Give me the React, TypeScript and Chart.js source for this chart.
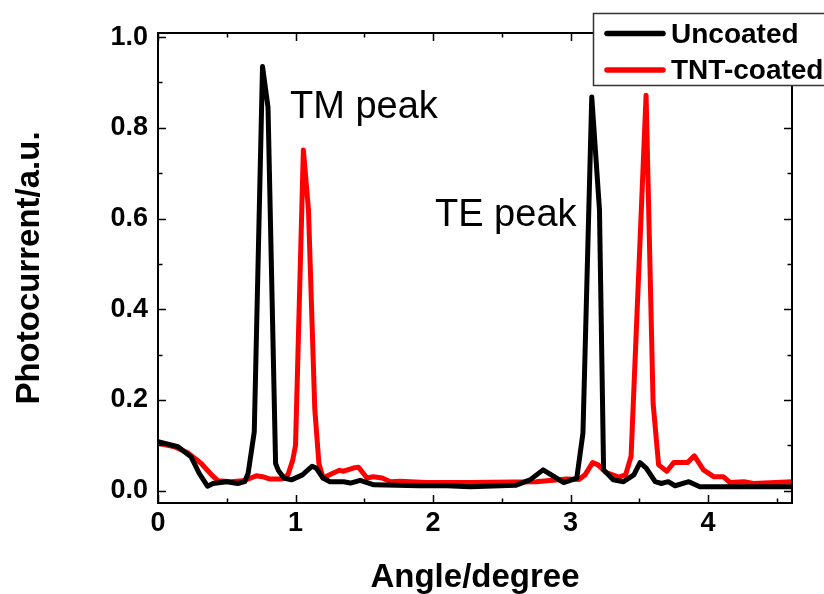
import React, { useEffect, useRef } from "react";
import { Chart, registerables } from "chart.js";

Chart.register(...registerables);

const FONT = "'Liberation Sans', Arial, sans-serif";

const uncoatedX = [0, 0.145, 0.24, 0.30, 0.36, 0.40, 0.50, 0.58, 0.63, 0.655, 0.70, 0.76, 0.80, 0.855, 0.875, 0.915, 0.97, 1.05, 1.12, 1.15, 1.20, 1.25, 1.35, 1.40, 1.47, 1.57, 1.9, 2.1, 2.27, 2.6, 2.705, 2.80, 2.875, 2.95, 3.045, 3.09, 3.154, 3.21, 3.24, 3.31, 3.385, 3.46, 3.505, 3.55, 3.615, 3.66, 3.71, 3.76, 3.86, 3.94, 4.2, 4.61];
const uncoatedY = [0.108, 0.097, 0.075, 0.038, 0.01, 0.016, 0.02, 0.016, 0.02, 0.038, 0.13, 0.935, 0.845, 0.06, 0.045, 0.028, 0.024, 0.035, 0.054, 0.05, 0.028, 0.02, 0.02, 0.017, 0.023, 0.013, 0.011, 0.011, 0.009, 0.012, 0.024, 0.046, 0.032, 0.018, 0.028, 0.127, 0.868, 0.62, 0.046, 0.024, 0.02, 0.035, 0.062, 0.05, 0.02, 0.016, 0.02, 0.011, 0.02, 0.009, 0.009, 0.009];

const coatedX = [0, 0.12, 0.22, 0.315, 0.39, 0.436, 0.53, 0.62, 0.667, 0.715, 0.76, 0.81, 0.9, 0.945, 0.98, 1.0, 1.057, 1.094, 1.14, 1.17, 1.20, 1.275, 1.32, 1.35, 1.42, 1.457, 1.52, 1.566, 1.63, 1.69, 1.76, 1.95, 2.27, 2.75, 2.97, 3.06, 3.105, 3.16, 3.2, 3.26, 3.35, 3.40, 3.44, 3.549, 3.60, 3.64, 3.70, 3.75, 3.85, 3.90, 3.966, 4.04, 4.11, 4.16, 4.26, 4.33, 4.61];
const coatedY = [0.105, 0.097, 0.083, 0.06, 0.035, 0.022, 0.02, 0.022, 0.027, 0.033, 0.031, 0.026, 0.026, 0.035, 0.068, 0.10, 0.751, 0.62, 0.18, 0.06, 0.028, 0.039, 0.045, 0.043, 0.05, 0.052, 0.028, 0.031, 0.028, 0.02, 0.021, 0.018, 0.018, 0.02, 0.026, 0.025, 0.035, 0.062, 0.057, 0.04, 0.03, 0.035, 0.076, 0.872, 0.193, 0.057, 0.043, 0.062, 0.062, 0.077, 0.046, 0.031, 0.031, 0.018, 0.02, 0.016, 0.02];

const xTicks = [0, 1, 2, 3, 4];
const xMinorTicks = [0.5, 1.5, 2.5, 3.5, 4.5];
const yTicks = [0, 0.2, 0.4, 0.6, 0.8, 1.0];
const yMinorTicks = [0.1, 0.3, 0.5, 0.7, 0.9];

const seriesNames = ["Uncoated", "TNT-coated"];
const seriesColors = ["#000000", "#ff0000"];
const annotations = [
  { text: "TM peak", x: 290, y: 118 },
  { text: "TE peak", x: 435, y: 226 },
];

const framePlugin = {
  id: "frame",
  afterDatasetsDraw(chart: any) {
    const { ctx, chartArea, scales } = chart;
    const { left, right, top, bottom } = chartArea;
    const xs = scales.x;
    const ys = scales.y;
    ctx.save();
    ctx.strokeStyle = "#000";
    ctx.lineWidth = 2;
    ctx.strokeRect(left, top, right - left, bottom - top);
    ctx.lineWidth = 1.5;
    const major = 8;
    const minor = 4.5;
    ctx.beginPath();
    const xt = (v: number, len: number) => {
      const p = Math.round(xs.getPixelForValue(v)) + 0.5;
      ctx.moveTo(p, bottom);
      ctx.lineTo(p, bottom - len);
      ctx.moveTo(p, top);
      ctx.lineTo(p, top + len);
    };
    const yt = (v: number, len: number) => {
      const p = Math.round(ys.getPixelForValue(v)) + 0.5;
      ctx.moveTo(left, p);
      ctx.lineTo(left + len, p);
      ctx.moveTo(right, p);
      ctx.lineTo(right - len, p);
    };
    xTicks.forEach((v) => xt(v, major));
    xMinorTicks.forEach((v) => xt(v, minor));
    yTicks.forEach((v) => yt(v, major));
    yMinorTicks.forEach((v) => yt(v, minor));
    ctx.stroke();

    // annotations
    ctx.fillStyle = "#000";
    ctx.font = `38px ${FONT}`;
    ctx.textAlign = "left";
    ctx.textBaseline = "alphabetic";
    annotations.forEach((a) => ctx.fillText(a.text, a.x, a.y));

    // legend
    const bx = 593, by = 13, bw = 240, bh = 72;
    ctx.fillStyle = "#fff";
    ctx.fillRect(bx, by, bw, bh);
    ctx.strokeStyle = "#333";
    ctx.lineWidth = 1.5;
    ctx.strokeRect(bx + 0.5, by + 0.5, bw, bh);
    ctx.lineCap = "round";
    ctx.font = `bold 28px ${FONT}`;
    ctx.textBaseline = "alphabetic";
    seriesNames.forEach((name, i) => {
      const ly = 33.5 + i * 36.5;
      ctx.strokeStyle = seriesColors[i];
      ctx.lineWidth = 5.5;
      ctx.beginPath();
      ctx.moveTo(607, ly);
      ctx.lineTo(663, ly);
      ctx.stroke();
      ctx.fillStyle = "#000";
      ctx.fillText(name, 671, 43 + i * 36);
    });
    ctx.restore();
  },
};

export default function App() {
  const ref = useRef<HTMLCanvasElement | null>(null);
  useEffect(() => {
    if (!ref.current) return;
    const toPts = (xs: number[], ys: number[]) => xs.map((x, i) => ({ x, y: ys[i] }));
    const chart = new Chart(ref.current, {
      type: "scatter",
      data: {
        datasets: [
          {
            label: seriesNames[0],
            data: toPts(uncoatedX, uncoatedY),
            showLine: true,
            borderColor: seriesColors[0],
            backgroundColor: seriesColors[0],
            borderWidth: 5,
            pointRadius: 0,
            borderJoinStyle: "round",
            borderCapStyle: "round",
          } as any,
          {
            label: seriesNames[1],
            data: toPts(coatedX, coatedY),
            showLine: true,
            borderColor: seriesColors[1],
            backgroundColor: seriesColors[1],
            borderWidth: 5,
            pointRadius: 0,
            borderJoinStyle: "round",
            borderCapStyle: "round",
          } as any,
        ],
      },
      options: {
        responsive: false,
        animation: false,
        events: [],
        layout: { padding: { left: 0, top: 33, right: 32, bottom: 0 } },
        plugins: { legend: { display: false }, tooltip: { enabled: false }, title: { display: false } },
        scales: {
          x: {
            type: "linear",
            min: 0,
            max: 4.61,
            grid: { display: false, drawTicks: false },
            border: { display: false },
            afterBuildTicks: (s: any) => { s.ticks = xTicks.map((v) => ({ value: v })); },
            afterFit: (s: any) => { s.height = 91; },
            ticks: {
              padding: 4,
              color: "#000",
              font: { family: FONT, size: 27, weight: "bold" },
              callback: (v: any) => String(v),
            },
            title: {
              display: true,
              text: "Angle/degree",
              color: "#000",
              font: { family: FONT, size: 33, weight: "bold", lineHeight: 1.0 },
              padding: { top: 0, bottom: 0 },
            },
          },
          y: {
            type: "linear",
            min: -0.027,
            max: 1.009,
            grid: { display: false, drawTicks: false },
            border: { display: false },
            afterBuildTicks: (s: any) => { s.ticks = yTicks.map((v) => ({ value: v })); },
            afterFit: (s: any) => { s.width = 158; },
            ticks: {
              padding: 10,
              color: "#000",
              font: { family: FONT, size: 27, weight: "bold" },
              callback: (v: any) => Number(v).toFixed(1),
            },
            title: {
              display: true,
              text: "Photocurrent/a.u.",
              color: "#000",
              font: { family: FONT, size: 33, weight: "bold", lineHeight: 1.0 },
              padding: { top: 13, bottom: 0 },
            },
          },
        },
      },
      plugins: [framePlugin],
    });
    return () => chart.destroy();
  }, []);
  return (
    <div style={{ position: "absolute", left: 0, top: 0, width: 824, height: 594, background: "#fff" }}>
      <canvas ref={ref} width={824} height={594} style={{ display: "block" }} />
    </div>
  );
}
